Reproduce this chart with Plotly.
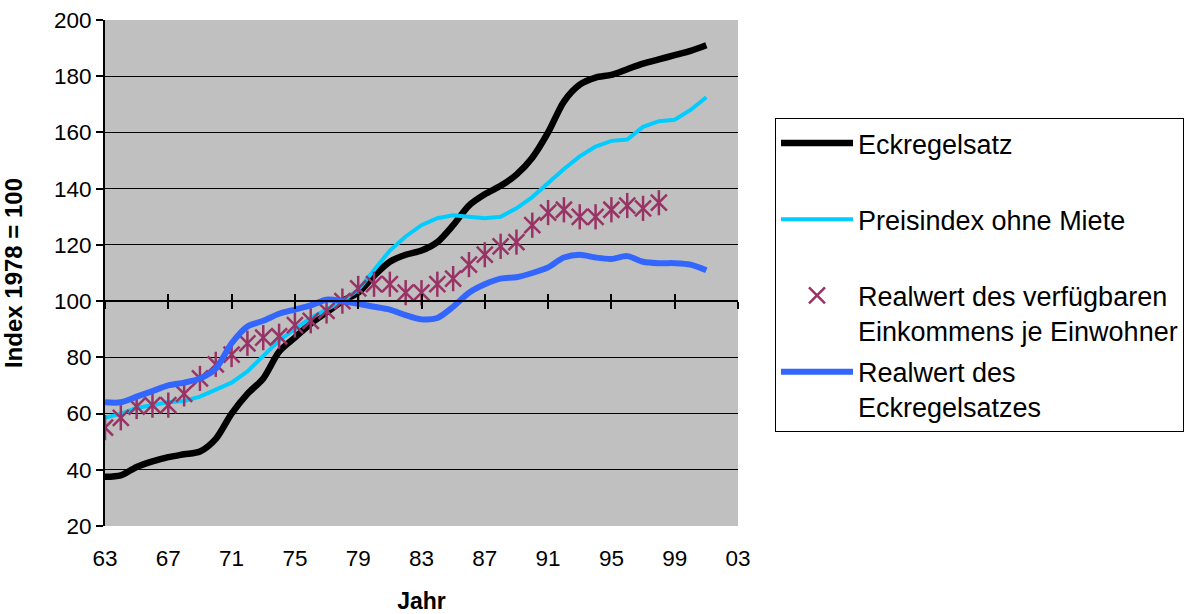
import plotly.graph_objects as go

years = list(range(1963, 2002))
eckregelsatz = [37.5, 38, 41, 43, 44.5, 45.5, 46.5, 51, 60, 67, 72.5, 82, 87, 92, 96, 100,
                103, 109, 114, 116.5, 118, 121, 127, 134, 138, 141, 145, 151, 160, 171,
                177, 179.5, 180.5, 182.5, 184.5, 186, 187.5, 189, 191]
preisindex = [58.5, 60, 62, 63, 64, 64.5, 66, 68.5, 71, 75, 80.5, 86, 90, 94, 97, 100,
              104, 111, 118, 123, 127, 129.5, 130.5, 130, 129.5, 130, 133, 137, 142, 147,
              151.5, 155, 157, 157.5, 162, 164, 164.5, 168, 172.5]
real_eck = [64, 64, 66, 68, 70, 71, 72.5, 76, 85, 91, 93, 95.5, 97, 98.5, 100.5, 100,
            99, 98, 97, 95, 93.5, 94, 98, 103, 106, 108, 108.5, 110, 112, 115.5,
            116.5, 115.5, 115, 116, 114, 113.5, 113.5, 113, 111]
years_ek = list(range(1963, 1999))
real_einkommen = [55, 58.5, 62.5, 63, 63, 67, 72.5, 77.5, 81, 85, 87, 87.5, 91.5, 93, 96.5, 100,
                  104.5, 106, 106, 103, 103, 106, 108, 113, 116.5, 119.5, 121, 127, 131.5, 132.5,
                  130, 130, 132.5, 134, 133, 135]
tick_years = list(range(1963, 2004, 4))
tick_labels = ["63", "67", "71", "75", "79", "83", "87", "91", "95", "99", "03"]
base_value = 100

FONT = "Arial, 'Liberation Sans', sans-serif"

fig = go.Figure()
fig.add_trace(go.Scatter(x=years, y=eckregelsatz, mode="lines", name="Eckregelsatz<br> ",
                         legendgroup="a", line=dict(color="#000000", width=6.5, shape="spline", smoothing=0.8)))
fig.add_trace(go.Scatter(x=years, y=preisindex, mode="lines", name="Preisindex ohne Miete<br> ",
                         legendgroup="b", line=dict(color="#00CCFF", width=4)))
fig.add_trace(go.Scatter(x=years_ek, y=real_einkommen, mode="markers",
                         name="Realwert des verfügbaren<br>Einkommens je Einwohner", legendgroup="c",
                         marker=dict(symbol="x-thin-open", size=16, color="#993366",
                                     line=dict(color="#993366", width=2.5))))
fig.add_trace(go.Scatter(x=years_ek, y=real_einkommen, mode="markers", showlegend=False, legendgroup="c",
                         marker=dict(symbol="line-ns-open", size=18, color="#993366",
                                     line=dict(color="#993366", width=2.5))))
fig.add_trace(go.Scatter(x=years, y=real_eck, mode="lines", name="Realwert des<br>Eckregelsatzes",
                         legendgroup="d", line=dict(color="#3366FF", width=6, shape="spline", smoothing=0.8)))
# invisible carriers so the crossing axis at 100 is drawn
for ax in ("x2", "x3"):
    fig.add_trace(go.Scatter(x=[years[0]], y=[base_value], xaxis=ax, mode="markers",
                             marker=dict(opacity=0), showlegend=False, hoverinfo="skip"))

axis_pos = (base_value - 20) / (200 - 20)
common_x = dict(range=[1963, 2003], tickvals=tick_years, showgrid=False, zeroline=False)

fig.update_layout(
    width=1195, height=614,
    margin=dict(l=105, r=457, t=20, b=88, autoexpand=False),
    paper_bgcolor="white", plot_bgcolor="#C0C0C0",
    font=dict(family=FONT, color="black", size=22),
    xaxis=dict(**common_x, ticktext=tick_labels, ticks="outside", ticklen=12,
               tickcolor="rgba(0,0,0,0)", showline=False,
               tickfont=dict(size=22.5),
               title=dict(text="Jahr", font=dict(size=23, weight="bold"), standoff=22)),
    xaxis2=dict(**common_x, overlaying="x", anchor="free", position=axis_pos, side="bottom",
                showticklabels=False, ticks="outside", ticklen=7, tickwidth=2, tickcolor="black",
                showline=True, linecolor="black", linewidth=2),
    xaxis3=dict(**common_x, overlaying="x", anchor="free", position=axis_pos, side="bottom",
                showticklabels=False, ticks="inside", ticklen=7, tickwidth=2, tickcolor="black",
                showline=False),
    yaxis=dict(range=[20, 200], dtick=20, tick0=20, showgrid=True, gridcolor="black", gridwidth=1,
               zeroline=False, showline=True, linecolor="black", linewidth=2,
               ticks="outside", ticklen=7, tickwidth=2, tickcolor="black",
               tickfont=dict(size=22.5),
               title=dict(text="Index 1978 = 100", font=dict(size=24, weight="bold"), standoff=26)),
    legend=dict(x=(775 - 105) / 633, y=(526 - 118) / 506, xanchor="left", yanchor="top",
                bgcolor="white", bordercolor="black", borderwidth=1,
                font=dict(family=FONT, size=27, color="black"),
                traceorder="grouped", tracegroupgap=3, valign="top", itemwidth=72),
)

fig.write_html("out.html")
